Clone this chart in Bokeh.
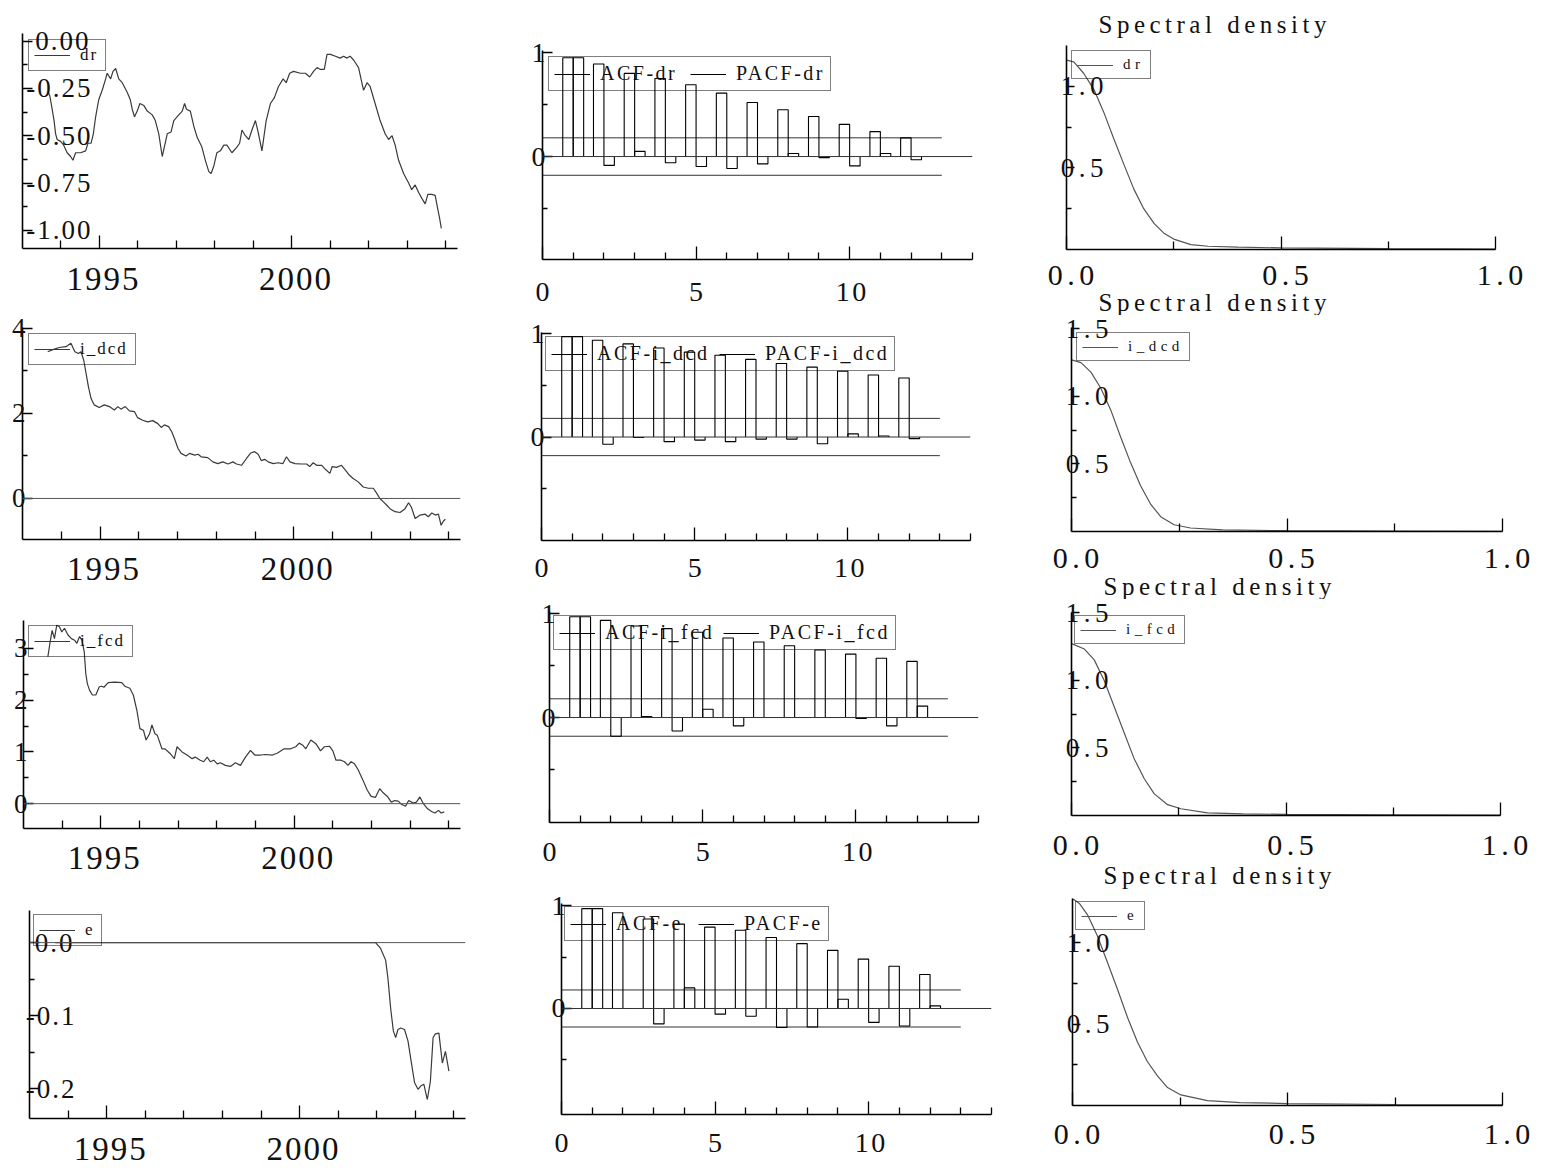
from bokeh.plotting import figure
from bokeh.layouts import row, column
from bokeh.models import FixedTicker, PrintfTickFormatter, Range1d, Legend, LegendItem, Span, Title
from bokeh.embed import file_html
from bokeh.resources import INLINE

FONT = "Liberation Serif"

# ---------------- data: time series (decimal years) ----------------
dr_year = [1993.67, 1993.71, 1993.77, 1993.82, 1993.86, 1993.90, 1993.99,
           1994.07, 1994.16, 1994.25, 1994.31, 1994.38, 1994.51, 1994.64, 1994.70, 1994.78, 1994.84, 1994.90, 1994.98,
           1995.07, 1995.16, 1995.20, 1995.29, 1995.35, 1995.42, 1995.50, 1995.59, 1995.72, 1995.80, 1995.85, 1995.91, 1995.98,
           1996.05, 1996.15, 1996.24, 1996.37, 1996.45, 1996.54, 1996.63, 1996.76, 1996.86, 1996.93,
           1997.06, 1997.15, 1997.21, 1997.26, 1997.36, 1997.45, 1997.54, 1997.66, 1997.75, 1997.84, 1997.90, 1997.97,
           1998.05, 1998.14, 1998.23, 1998.31, 1998.44, 1998.57, 1998.64, 1998.70, 1998.79, 1998.88, 1998.96,
           1999.05, 1999.12, 1999.22, 1999.33, 1999.44, 1999.54, 1999.65, 1999.77, 1999.85, 1999.94,
           2000.04, 2000.22, 2000.35, 2000.46, 2000.56, 2000.65, 2000.74, 2000.84, 2000.91,
           2001.00, 2001.13, 2001.25, 2001.34, 2001.43, 2001.51, 2001.60, 2001.73, 2001.86, 2001.95,
           2002.03, 2002.16, 2002.29, 2002.42, 2002.51, 2002.60, 2002.68, 2002.77, 2002.90,
           2003.03, 2003.11, 2003.20, 2003.29, 2003.37, 2003.46, 2003.53, 2003.63, 2003.72, 2003.78, 2003.83, 2003.88]
dr_val = [-0.27, -0.29, -0.36, -0.42, -0.49, -0.52, -0.53,
          -0.55, -0.59, -0.61, -0.63, -0.59, -0.59, -0.58, -0.54, -0.54, -0.49, -0.40, -0.31,
          -0.26, -0.20, -0.17, -0.20, -0.16, -0.145, -0.20, -0.22, -0.27, -0.31, -0.36, -0.40, -0.37,
          -0.33, -0.34, -0.37, -0.39, -0.42, -0.49, -0.61, -0.49, -0.48, -0.42,
          -0.39, -0.37, -0.33, -0.36, -0.37, -0.45, -0.51, -0.56, -0.63, -0.69, -0.70, -0.66,
          -0.59, -0.58, -0.55, -0.55, -0.59, -0.56, -0.54, -0.47, -0.50, -0.52, -0.47,
          -0.42, -0.48, -0.58, -0.42, -0.33, -0.30, -0.24, -0.20, -0.22, -0.17,
          -0.16, -0.17, -0.17, -0.19, -0.16, -0.14, -0.15, -0.15, -0.07,
          -0.07, -0.08, -0.09, -0.08, -0.09, -0.08, -0.10, -0.14, -0.26, -0.22,
          -0.24, -0.33, -0.42, -0.49, -0.52, -0.50, -0.55, -0.63, -0.70,
          -0.75, -0.785, -0.76, -0.80, -0.83, -0.86, -0.81, -0.81, -0.815, -0.88, -0.93, -0.99]

idcd_year = [1993.65, 1993.78, 1993.95, 1994.12, 1994.25, 1994.35, 1994.44, 1994.51, 1994.58, 1994.64,
             1994.70, 1994.77, 1994.85, 1994.98, 1995.11, 1995.24, 1995.37, 1995.46, 1995.54, 1995.65,
             1995.76, 1995.89, 1995.97, 1996.10, 1996.23, 1996.36, 1996.49, 1996.58, 1996.66, 1996.77,
             1996.85, 1996.92, 1997.01, 1997.09, 1997.22, 1997.31, 1997.44, 1997.53, 1997.61, 1997.78,
             1997.91, 1998.04, 1998.17, 1998.30, 1998.43, 1998.52, 1998.65, 1998.78, 1998.89, 1998.99,
             1999.08, 1999.16, 1999.25, 1999.34, 1999.47, 1999.59, 1999.72, 1999.81, 1999.90, 2000.03,
             2000.20, 2000.33, 2000.41, 2000.50, 2000.59, 2000.72, 2000.82, 2000.93, 2000.99, 2001.10,
             2001.23, 2001.32, 2001.41, 2001.53, 2001.66, 2001.79, 2001.92, 2002.05, 2002.14, 2002.22,
             2002.31, 2002.40, 2002.48, 2002.61, 2002.74, 2002.87, 2002.96, 2003.03, 2003.13, 2003.26,
             2003.39, 2003.47, 2003.56, 2003.65, 2003.73, 2003.80, 2003.86, 2003.91]
idcd_val = [3.45, 3.50, 3.55, 3.57, 3.65, 3.45, 3.41, 3.45, 3.25, 2.94,
            2.63, 2.35, 2.20, 2.14, 2.20, 2.16, 2.08, 2.16, 2.10, 2.16,
            2.06, 2.04, 1.90, 1.84, 1.80, 1.83, 1.76, 1.67, 1.73, 1.69,
            1.57, 1.41, 1.18, 1.06, 1.00, 1.06, 1.02, 1.04, 0.98, 0.96,
            0.86, 0.82, 0.86, 0.81, 0.86, 0.81, 0.78, 0.94, 1.07, 1.10,
            1.04, 0.89, 0.92, 0.86, 0.82, 0.84, 0.82, 0.98, 0.86, 0.82,
            0.81, 0.81, 0.75, 0.84, 0.78, 0.78, 0.68, 0.59, 0.75, 0.73,
            0.78, 0.68, 0.57, 0.47, 0.39, 0.27, 0.24, 0.24, 0.12, 0.00,
            -0.08, -0.16, -0.24, -0.31, -0.33, -0.24, -0.10, -0.20, -0.47, -0.39,
            -0.37, -0.43, -0.34, -0.39, -0.37, -0.63, -0.53, -0.49]

ifcd_year = [1993.63, 1993.69, 1993.74, 1993.80, 1993.86, 1993.93, 1993.99, 1994.06, 1994.15, 1994.24,
             1994.32, 1994.38, 1994.45, 1994.51, 1994.57, 1994.61, 1994.65, 1994.71, 1994.78, 1994.87,
             1994.96, 1995.02, 1995.08, 1995.19, 1995.36, 1995.54, 1995.62, 1995.75, 1995.84, 1995.93,
             1996.01, 1996.10, 1996.17, 1996.26, 1996.32, 1996.40, 1996.46, 1996.58, 1996.66, 1996.79,
             1996.90, 1996.97, 1997.10, 1997.23, 1997.36, 1997.44, 1997.57, 1997.66, 1997.75, 1997.83,
             1997.92, 1998.01, 1998.09, 1998.22, 1998.35, 1998.48, 1998.61, 1998.74, 1998.87, 1998.98,
             1999.13, 1999.26, 1999.44, 1999.57, 1999.74, 1999.91, 2000.04, 2000.13, 2000.22, 2000.30,
             2000.43, 2000.56, 2000.68, 2000.78, 2000.91, 2001.00, 2001.08, 2001.21, 2001.30, 2001.39,
             2001.47, 2001.56, 2001.65, 2001.78, 2001.89, 2001.99, 2002.10, 2002.21, 2002.30, 2002.41,
             2002.51, 2002.60, 2002.69, 2002.77, 2002.88, 2002.96, 2003.08, 2003.16, 2003.25, 2003.34,
             2003.45, 2003.55, 2003.64, 2003.73, 2003.80, 2003.88]
ifcd_val = [2.84, 3.13, 3.35, 3.19, 3.45, 3.42, 3.32, 3.39, 3.26, 3.19,
            3.16, 3.10, 3.23, 3.16, 2.94, 2.52, 2.32, 2.19, 2.10, 2.10,
            2.26, 2.27, 2.25, 2.34, 2.35, 2.34, 2.27, 2.23, 2.10, 1.81,
            1.45, 1.42, 1.23, 1.35, 1.52, 1.35, 1.32, 1.06, 1.06, 0.97,
            0.87, 1.10, 1.00, 0.94, 0.87, 0.90, 0.84, 0.81, 0.90, 0.81,
            0.84, 0.77, 0.79, 0.74, 0.72, 0.79, 0.74, 0.90, 1.03, 0.94,
            0.94, 0.95, 0.94, 0.98, 1.06, 1.06, 1.10, 1.17, 1.13, 1.06,
            1.23, 1.16, 1.02, 1.10, 1.11, 1.02, 0.84, 0.84, 0.81, 0.74,
            0.81, 0.77, 0.66, 0.45, 0.26, 0.14, 0.12, 0.29, 0.21, 0.14,
            0.03, 0.06, 0.05, -0.01, -0.05, 0.06, 0.01, 0.03, 0.13, 0.00,
            -0.10, -0.15, -0.18, -0.13, -0.18, -0.16]

e_year = [1993.67, 2001.97, 2002.10, 2002.23, 2002.29, 2002.36, 2002.43, 2002.49, 2002.55, 2002.62,
          2002.72, 2002.81, 2002.89, 2002.98, 2003.07, 2003.15, 2003.22, 2003.31, 2003.39, 2003.46,
          2003.52, 2003.61, 2003.70, 2003.78, 2003.87]
e_val = [0.0, 0.0, -0.008, -0.024, -0.049, -0.090, -0.121, -0.130, -0.119, -0.117,
         -0.119, -0.135, -0.162, -0.192, -0.201, -0.196, -0.194, -0.215, -0.190, -0.130,
         -0.125, -0.124, -0.165, -0.149, -0.176]

# ---------------- data: ACF / PACF ----------------
lags = [1, 2, 3, 4, 5, 6, 7, 8, 9, 10, 11, 12]
acf_dr = [0.95, 0.89, 0.80, 0.75, 0.69, 0.61, 0.52, 0.45, 0.385, 0.31, 0.24, 0.18]
pacf_dr = [0.95, -0.085, 0.05, -0.06, -0.095, -0.115, -0.07, 0.03, -0.01, -0.09, 0.03, -0.03]
acf_idcd = [0.97, 0.935, 0.90, 0.86, 0.82, 0.79, 0.75, 0.71, 0.675, 0.636, 0.60, 0.57]
pacf_idcd = [0.97, -0.07, -0.005, -0.045, -0.03, -0.045, -0.02, -0.02, -0.065, 0.03, 0.01, -0.016]
acf_ifcd = [0.97, 0.935, 0.88, 0.855, 0.82, 0.765, 0.726, 0.69, 0.65, 0.61, 0.57, 0.54]
pacf_ifcd = [0.97, -0.18, 0.01, -0.13, 0.08, -0.08, 0.0, 0.0, 0.0, -0.01, -0.08, 0.11]
acf_e = [0.97, 0.93, 0.87, 0.82, 0.79, 0.76, 0.69, 0.63, 0.565, 0.48, 0.41, 0.33]
pacf_e = [0.97, 0.0, -0.15, 0.20, -0.055, -0.075, -0.185, -0.18, 0.09, -0.135, -0.17, 0.025]
band = 0.18
band_last_lag = 13

# ---------------- data: spectral densities ----------------
sd_dr_f = [0, 0.017, 0.04, 0.064, 0.087, 0.11, 0.134, 0.157, 0.18, 0.204, 0.227, 0.25, 0.29, 0.33, 0.4, 0.5, 0.75, 1.0]
sd_dr = [1.16, 1.15, 1.08, 0.98, 0.84, 0.68, 0.52, 0.37, 0.25, 0.16, 0.10, 0.064, 0.03, 0.02, 0.014, 0.01, 0.005, 0.003]
sd_idcd_f = [0, 0.022, 0.045, 0.068, 0.091, 0.114, 0.137, 0.16, 0.184, 0.207, 0.238, 0.276, 0.35, 0.5, 0.75, 1.0]
sd_idcd = [1.27, 1.25, 1.18, 1.06, 0.90, 0.70, 0.51, 0.34, 0.20, 0.11, 0.05, 0.026, 0.012, 0.006, 0.003, 0.002]
sd_ifcd_f = [0, 0.03, 0.053, 0.076, 0.1, 0.123, 0.146, 0.17, 0.193, 0.224, 0.255, 0.317, 0.4, 0.5, 0.75, 1.0]
sd_ifcd = [1.27, 1.23, 1.15, 1.00, 0.80, 0.61, 0.42, 0.27, 0.16, 0.08, 0.05, 0.02, 0.012, 0.008, 0.004, 0.003]
sd_e_f = [0, 0.016, 0.035, 0.058, 0.081, 0.105, 0.128, 0.151, 0.174, 0.198, 0.221, 0.252, 0.314, 0.39, 0.5, 0.75, 1.0]
sd_e = [1.27, 1.24, 1.17, 1.04, 0.88, 0.71, 0.54, 0.39, 0.27, 0.18, 0.11, 0.065, 0.03, 0.018, 0.012, 0.006, 0.004]

sd_title = "Spectral density"
years_major = [1995, 2000]
years_minor = [1994, 1996, 1997, 1998, 1999, 2001, 2002, 2003, 2004]

LINE = "#3a3a3a"


def make_fig(colx, rowy, frame, xr, yr, spacing_px):
    x0, x1 = colx
    y0, y1 = rowy
    L, T, R, B = frame
    p = figure(width=x1 - x0, height=y1 - y0,
               x_range=Range1d(*xr), y_range=Range1d(*yr),
               output_backend="svg", toolbar_location=None, title=None,
               min_border_left=L - x0, min_border_right=x1 - R,
               min_border_top=T - y0, min_border_bottom=y1 - B,
               styles={"letter-spacing": f"{spacing_px}px"})
    p.frame_align = False
    p.outline_line_color = None
    p.xgrid.visible = False
    p.ygrid.visible = False
    p.background_fill_color = "white"
    p.border_fill_color = "white"
    return p


def make_title(text, standoff):
    return Title(text=text, text_font=FONT, text_font_size="25px", text_font_style="normal",
                 text_color="#111111", align="left", offset=32, standoff=standoff)


def style_axis(ax, ticks, minor, fmt, fs, standoff, maj_in, min_in):
    ax.ticker = FixedTicker(ticks=ticks, minor_ticks=minor)
    ax.formatter = PrintfTickFormatter(format=fmt)
    ax.major_label_text_font = FONT
    ax.major_label_text_font_size = f"{fs}px"
    ax.major_label_text_color = "#111111"
    ax.major_label_standoff = standoff
    ax.major_tick_in = maj_in
    ax.major_tick_out = 0
    ax.minor_tick_in = min_in
    ax.minor_tick_out = 0
    ax.axis_line_color = "black"
    ax.axis_line_width = 1.6
    ax.major_tick_line_color = "black"
    ax.minor_tick_line_color = "black"
    ax.major_tick_line_width = 1.3
    ax.minor_tick_line_width = 1.3


def add_legend(p, items, fs, margin, label_width, orientation="vertical", spacing=12):
    leg = Legend(items=[LegendItem(label=lab, renderers=[r]) for lab, r in items],
                 location="top_left", orientation=orientation, margin=margin,
                 padding=5, spacing=spacing, glyph_width=36, glyph_height=16,
                 label_height=16, label_standoff=10, label_width=label_width,
                 label_text_font=FONT, label_text_font_size=f"{fs}px",
                 label_text_color="#111111",
                 border_line_color="black", border_line_width=1.2,
                 background_fill_alpha=0.0)
    p.add_layout(leg)


# ---------------- column 1: time series ----------------
COL1 = (0, 505)
XR_T = (1993.0, 2004.3)
ts_specs = [
    ("dr", dr_year, dr_val, (0, 298), (22, 33, 457, 248), (-1.096, 0.04),
     [0, -0.25, -0.5, -0.75, -1.0], [-0.125, -0.375, -0.625, -0.875], "%.2f", -60, 19, False, 6, 20),
    ("i_dcd", idcd_year, idcd_val, (298, 589), (22, 327, 460, 539), (-0.965, 4.02),
     [0, 2, 4], [1, 3], "%d", -3, 18, True, 6, 50),
    ("i_fcd", ifcd_year, ifcd_val, (589, 878), (23, 620, 460, 828), (-0.48, 3.54),
     [0, 1, 2, 3], [0.5, 1.5, 2.5], "%d", -4, 18, True, 5, 47),
    ("e", e_year, e_val, (878, 1169), (29, 910, 465, 1118), (-0.241, 0.044),
     [0, -0.1, -0.2], [-0.05, -0.15], "%.1f", -39, 19, True, 4, 11),
]
col1 = []
for name, xs, ys, rowy, frame, yr, yt, ym, yfmt, ysoff, xsoff, zero, mg, lw in ts_specs:
    p = make_fig(COL1, rowy, frame, XR_T, yr, 2)
    if zero:
        p.add_layout(Span(location=0, dimension="width", line_color="#555555", line_width=1))
    r = p.line(xs, ys, line_color=LINE, line_width=1.2)
    style_axis(p.xaxis[0], years_major, years_minor, "%d", 33, xsoff, 13, 8)
    style_axis(p.yaxis[0], yt, ym, yfmt, 27, ysoff, 10, 5)
    add_legend(p, [(name, r)], 17, mg, lw)
    col1.append(p)

# ---------------- column 2: ACF / PACF ----------------
COL2 = (505, 1030)
acf_specs = [
    ("dr", acf_dr, pacf_dr, (0, 309), (542, 50, 972, 259), (-0.99, 1.02), 23, -3, 6, 86),
    ("i_dcd", acf_idcd, pacf_idcd, (309, 590), (541, 332, 970, 540), (-1.0, 1.01), 18, -3, 4, 118),
    ("i_fcd", acf_ifcd, pacf_ifcd, (590, 872), (549, 611, 978, 822), (-1.01, 1.02), 20, -6, 4, 114),
    ("e", acf_e, pacf_e, (872, 1169), (561, 903, 991, 1114), (-1.03, 1.02), 19, -4, 3, 78),
]
BW = 0.34
col2 = []
for name, acf, pacf, rowy, frame, yr, xsoff, ysoff, mg, lw in acf_specs:
    p = make_fig(COL2, rowy, frame, (0, 14), yr, 2.5)
    p.add_layout(Span(location=0, dimension="width", line_color="#333333", line_width=1))
    p.line([0, band_last_lag], [band, band], line_color="#333333", line_width=1)
    p.line([0, band_last_lag], [-band, -band], line_color="#333333", line_width=1)
    ax_xs = [[k - BW, k - BW, k, k] for k in lags]
    ax_ys = [[0, v, v, 0] for v in acf]
    px_xs = [[k, k, k + BW, k + BW] for k in lags]
    px_ys = [[0, v, v, 0] for v in pacf]
    r1 = p.multi_line(ax_xs, ax_ys, line_color="black", line_width=1.1)
    r2 = p.multi_line(px_xs, px_ys, line_color="black", line_width=1.1)
    style_axis(p.xaxis[0], [0, 5, 10], [1, 2, 3, 4, 6, 7, 8, 9, 11, 12, 13, 14], "%d", 28, xsoff, 13, 7)
    style_axis(p.yaxis[0], [0, 1], [-0.5, 0.5], "%d", 28, ysoff, 10, 5)
    add_legend(p, [("ACF-" + name, r1), ("PACF-" + name, r2)], 20, mg, lw,
               orientation="horizontal", spacing=4)
    col2.append(p)

# ---------------- column 3: spectral densities ----------------
# each panel's "Spectral density" heading is placed in the strip just above its frame
COL3 = (1030, 1553)
sd_specs = [
    ("dr", sd_dr_f, sd_dr, (0, 315), (1066, 45, 1495, 249), (0, 1.25), [0.5, 1.0], 16, 5, 22, -1),
    ("i_dcd", sd_idcd_f, sd_idcd, (315, 599), (1071, 327, 1502, 531), (0, 1.51), [0.5, 1.0, 1.5], 17, 5, 56, 0),
    ("i_fcd", sd_ifcd_f, sd_ifcd, (599, 890), (1071, 612, 1500, 815), (0, 1.5), [0.5, 1.0, 1.5], 20, 3, 53, 4),
    ("e", sd_e_f, sd_e, (890, 1169), (1072, 898, 1502, 1105), (0, 1.27), [0.5, 1.0], 19, 3, 12, None),
]
col3 = []
for i, (name, fx, fy, rowy, frame, yr, yt, xsoff, mg, lw, next_title_so) in enumerate(sd_specs):
    p = make_fig(COL3, rowy, frame, (0, 1), yr, 4.5)
    if i == 0:
        p.add_layout(make_title(sd_title, 16), "above")
    r = p.line(fx, fy, line_color="#555555", line_width=1.2)
    style_axis(p.xaxis[0], [0.0, 0.5, 1.0], [0.25, 0.75], "%.1f", 30, xsoff, 13, 8)
    style_axis(p.yaxis[0], yt, [0.25, 0.75], "%.1f", 27, -28, 8, 5)
    add_legend(p, [(name, r)], 15, mg, lw)
    if next_title_so is not None:
        # heading of the panel below, drawn in this panel's lower strip
        p.add_layout(make_title(sd_title, next_title_so), "below")
    col3.append(p)

layout = row(column(*col1, spacing=0), column(*col2, spacing=0), column(*col3, spacing=0), spacing=0)

template = """{% block preamble %}<style>html, body { margin: 0; padding: 0; background: white; }</style>{% endblock %}"""
open("out.html", "w").write(file_html(layout, INLINE, template=template))
